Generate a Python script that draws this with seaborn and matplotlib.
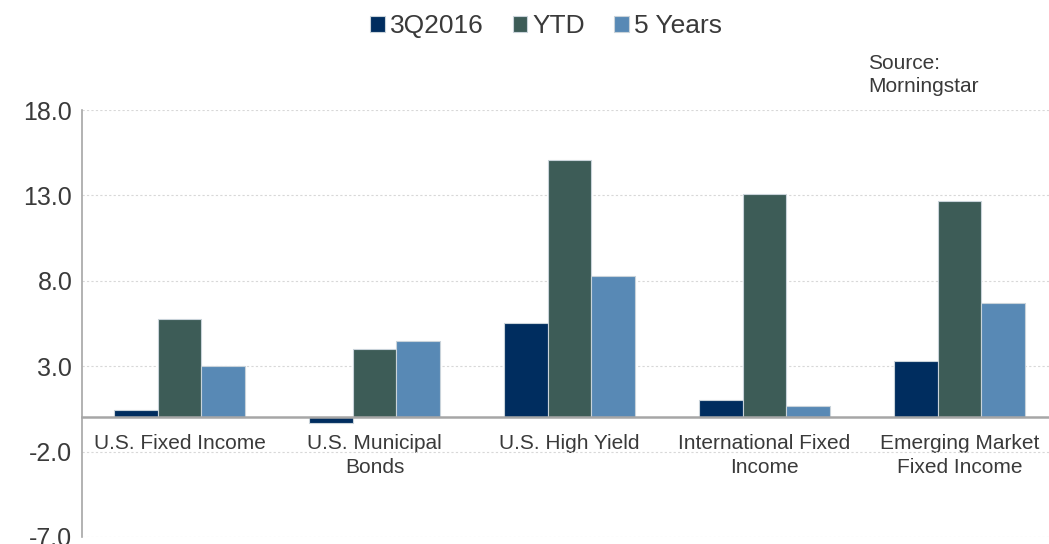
import pandas as pd
import numpy as np
import seaborn as sns
from matplotlib import pyplot as plt
from matplotlib.ticker import FixedLocator

# values
categories = ["U.S. Fixed Income", "U.S. Municipal\nBonds", "U.S. High Yield",
              "International Fixed\nIncome", "Emerging Market\nFixed Income"]
series = ["3Q2016", "YTD", "5 Years"]
q3_2016 = [0.43, -0.32, 5.51, 1.01, 3.29]
ytd = [5.75, 3.98, 15.09, 13.06, 12.65]
five_years = [3.04, 4.45, 8.30, 0.66, 6.70]
yticks = [-7.0, -2.0, 3.0, 8.0, 13.0, 18.0]

colors = ["#002D5F", "#3D5C57", "#5889B5"]
txt = "#3a3a3a"

df = pd.DataFrame({
    "category": categories * 3,
    "series": np.repeat(series, len(categories)),
    "value": q3_2016 + ytd + five_years,
})

sns.set_style("white")
plt.rcParams["font.family"] = ["Liberation Sans", "DejaVu Sans"]

fig = plt.figure(figsize=(10.49, 5.44), dpi=100)
ax = fig.add_axes([82 / 1049, 7 / 544, 975 / 1049, 427 / 544])

sns.barplot(
    data=df, x="category", y="value", hue="series", order=categories,
    hue_order=series, palette=colors, saturation=1, width=0.67,
    edgecolor="#c9d3da", linewidth=0.8, ax=ax, zorder=3
)

ax.set_ylim(-7, 18)
ax.set_xlim(-0.5, 4.5)
ax.set_yticks(yticks)
ax.set_yticklabels(["%.1f" % v for v in yticks], fontsize=18, color=txt)
for v in yticks:
    ax.axhline(v, color="#d8d8d8", lw=0.8, ls=(0, (2, 2)), zorder=1)

ax.spines["top"].set_visible(False)
ax.spines["right"].set_visible(False)
ax.spines["left"].set_color("#a6a6a6")
ax.spines["left"].set_linewidth(1.2)
ax.spines["bottom"].set_position(("data", 0))
ax.spines["bottom"].set_color("#a6a6a6")
ax.spines["bottom"].set_linewidth(1.8)
ax.spines["bottom"].set_zorder(4)

ax.tick_params(axis="y", which="major", direction="out", length=3,
               color="#a6a6a6", width=1.0, pad=4)
ax.tick_params(axis="x", which="major", length=0, pad=12)
ax.xaxis.set_minor_locator(FixedLocator([0.5, 1.5, 2.5, 3.5]))
ax.tick_params(axis="x", which="minor", direction="out", length=6,
               color="#a6a6a6", width=1.0)
ax.set_xticks(range(len(categories)))
ax.set_xticklabels(categories, fontsize=15, color=txt, linespacing=1.3)
ax.set_xlabel("")
ax.set_ylabel("")

handles, labels = ax.get_legend_handles_labels()
ax.get_legend().remove()
fig.legend(handles, labels, loc="center", bbox_to_anchor=(546 / 1049, 1 - 26 / 544),
           ncol=3, frameon=False, fontsize=19, handlelength=0.55, handleheight=0.55,
           handletextpad=0.2, columnspacing=1.1, labelcolor=txt)

fig.text(868 / 1049, 1 - 75 / 544, "Source:\nMorningstar", fontsize=15,
         color=txt, va="center", ha="left", linespacing=1.3)

fig.savefig("out.png", dpi=100)
